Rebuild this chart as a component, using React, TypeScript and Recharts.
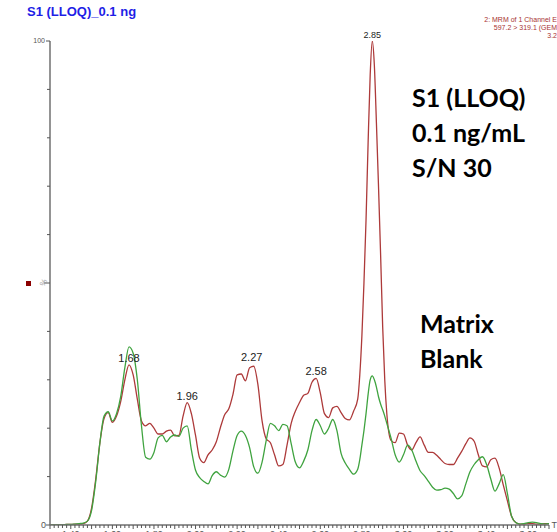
import React from "react";
import {
  LineChart,
  Line,
  XAxis,
  YAxis,
  ReferenceDot,
} from "recharts";

// retention time (min)
const times = [
  1.3, 1.32, 1.34, 1.36, 1.38, 1.4, 1.42, 1.44, 1.46, 1.48,
  1.5, 1.52, 1.54, 1.56, 1.58, 1.6, 1.62, 1.64, 1.66, 1.68,
  1.7, 1.72, 1.74, 1.76, 1.78, 1.8, 1.82, 1.84, 1.86, 1.88,
  1.9, 1.92, 1.94, 1.96, 1.98, 2.0, 2.02, 2.04, 2.06, 2.08,
  2.1, 2.12, 2.14, 2.16, 2.18, 2.2, 2.22, 2.24, 2.26, 2.28,
  2.3, 2.32, 2.34, 2.36, 2.38, 2.4, 2.42, 2.44, 2.46, 2.48,
  2.5, 2.52, 2.54, 2.56, 2.58, 2.6, 2.62, 2.64, 2.66, 2.68,
  2.7, 2.72, 2.74, 2.76, 2.78, 2.79, 2.8, 2.81, 2.82, 2.83,
  2.84, 2.85, 2.86, 2.87, 2.88, 2.89, 2.9, 2.91, 2.92, 2.94,
  2.96, 2.98, 3.0, 3.02, 3.04, 3.06, 3.08, 3.1, 3.12, 3.14,
  3.16, 3.18, 3.2, 3.22, 3.24, 3.26, 3.28, 3.3, 3.32, 3.34,
  3.36, 3.38, 3.4, 3.42, 3.44, 3.46, 3.48, 3.5, 3.52, 3.54,
  3.56, 3.58, 3.6, 3.62, 3.64, 3.66, 3.68, 3.7,
];

// S1 (LLOQ) 0.1 ng/mL, % intensity
const s1 = [
  0, 0, 0, 0, 0.1, 0.1, 0.2, 0.2, 0.3, 0.8,
  3.5, 9.5, 17, 22, 23.2, 21.2, 22.5, 25.5, 30, 33.1,
  31, 26, 21.5, 20.5, 21, 20, 18.8, 18.8, 19.4, 19.6,
  18.4, 18.5, 22.5, 25.3, 23, 18.5, 13.8, 12.9, 14.5, 15.5,
  17.2, 20.2, 22.8, 24, 27, 31, 31.2, 29.8, 32.5, 32.8,
  29, 21.5, 17.8, 17, 14.5, 12.2, 12.5, 16.5, 21, 23.5,
  25.3, 26.8, 27.2, 29.5, 30.3, 27.3, 23, 22.2, 24.2, 24.5,
  23.2, 22, 21.7, 23.5, 26, 31, 39, 50, 63, 79,
  93, 100, 95, 83, 70, 56, 41, 30, 23, 17.5,
  17, 19, 18.8, 16.5, 15.5, 17, 18.2, 16.5, 15, 15,
  14.4, 13.5, 12.7, 12.5, 12.5, 13.8, 15.2, 16.8, 18, 17.3,
  14.5, 12.2, 12, 13.5, 13.8, 11.8, 8.3, 5, 1.8, 0.5,
  0.2, 0.2, 0.3, 0.3, 0.2, 0.2, 0.3, 0.3,
];

// Matrix blank, % intensity
const blank = [
  0, 0, 0, 0, 0.1, 0.1, 0.2, 0.3, 0.4, 0.8,
  3, 9, 17, 22.5, 23.4, 21.5, 23, 26.5, 32.5, 36.8,
  35.5, 30, 20.5, 14, 13.6, 15, 18, 18.5, 17.2, 18.2,
  18.6, 18.3, 20, 20.5, 15.5, 11.3, 9.8, 9, 8.5, 10.2,
  11, 10.3, 9.9, 11.5, 15.3, 18.5, 19.4, 18.5, 16, 12,
  10.7, 13, 17.5, 21, 20.5, 19.5, 20.8, 20.5, 16.8, 13,
  11.8, 13.2, 15.5, 19.5, 21.8, 20.5, 18.8, 20, 21.8, 19.5,
  14.8, 12.8, 11.5, 10.5, 11.5, 13.5, 16.5, 19.5, 23, 27,
  30, 30.8, 30, 28.5, 26.5, 25, 23.8, 22.5, 21, 18,
  14.5, 13, 14.5, 16.5, 15.5, 13.2, 11.2, 10.2, 9, 7.8,
  7.2, 7.3, 7.6, 7.4, 6.5, 5.4, 6, 8.5, 11, 12.5,
  13.5, 14.1, 12.5, 9.5, 7, 8.5, 10.4, 6.5, 1.8, 0.5,
  0.2, 0.3, 0.5, 0.6, 0.5, 0.3, 0.2, 0.3,
];

const peakTimes = [1.68, 1.96, 2.27, 2.58, 2.85];
const peakHeights = [33.1, 25.3, 33.2, 30.4, 100];

const xTickLabels = ["1.40", "1.60", "1.80", "2.00", "2.20", "2.40", "2.60", "2.80", "3.00", "3.20", "3.40", "3.60"];
const yTicks = [0, 10, 20, 30, 40, 50, 60, 70, 80, 90, 100];

const data = times.map((t, i) => ({ t, s1: s1[i], blank: blank[i] }));

// minor ticks on the time axis every 0.02 min
const xMinor = Array.from({ length: 121 }, (_, i) => Math.round((1.3 + i * 0.02) * 100) / 100);

const RED = "#ad3a3a";
const GREEN = "#3fa33f";
const AXIS = "#707070";

const XTick = (props: any) => {
  const { x, y, payload } = props;
  const v = payload.value.toFixed(2);
  const labelled = xTickLabels.includes(v);
  const tenth = Math.round(payload.value * 100) % 10 === 0;
  return (
    <g>
      <line x1={x} x2={x} y1={y} y2={y + (tenth ? 4 : 3)} stroke="#555" strokeWidth={1} />
      {labelled && (
        <text x={x} y={y + 12} textAnchor="middle" fontSize={9} fill="#555" fontFamily="Liberation Sans, Arial, sans-serif">
          {v}
        </text>
      )}
    </g>
  );
};

const YTick = (props: any) => {
  const { x, y, payload } = props;
  const v = payload.value;
  const len = v === 50 ? 6 : v === 0 || v === 100 ? 4 : 3;
  return (
    <g fontFamily="Liberation Sans, Arial, sans-serif">
      <line x1={x - len} x2={x} y1={y} y2={y} stroke="#555" strokeWidth={1} />
      {v === 100 && (
        <text x={x - 5} y={y + 2} textAnchor="end" fontSize={7} fill="#555">100</text>
      )}
      {v === 0 && (
        <text x={x - 4} y={y + 3} textAnchor="end" fontSize={9} fill="#555">0</text>
      )}
      {v === 50 && (
        <text x={x - 6} y={y + 2} textAnchor="middle" fontSize={8} fill="#999" transform={`rotate(-60 ${x - 6} ${y})`}>%</text>
      )}
    </g>
  );
};

const bigText: React.CSSProperties = {
  position: "absolute",
  fontFamily: "Lato, 'Open Sans', sans-serif",
  fontWeight: 700,
  fontSize: 25,
  lineHeight: "35px",
  color: "#000",
  whiteSpace: "nowrap",
};

export default function App() {
  return (
    <div style={{ position: "fixed", left: 0, top: 0, width: 557, height: 532, overflow: "hidden", background: "#fff" }}>
      <div style={{ position: "absolute", left: 27, top: 4, fontFamily: "Liberation Sans, Arial, sans-serif", fontWeight: 700, fontSize: 13, color: "#1e1ee6", whiteSpace: "nowrap" }}>
        S1 (LLOQ)_0.1 ng
      </div>
      <div style={{ position: "absolute", right: 0, top: 16, fontFamily: "Liberation Sans, Arial, sans-serif", fontSize: 7, lineHeight: "8px", color: "#a83232", whiteSpace: "nowrap", textAlign: "right" }}>
        <div>2: MRM of 1 Channel E</div>
        <div>597.2 &gt; 319.1 (GEM</div>
        <div>3.2</div>
      </div>
      <div style={{ position: "absolute", left: 26, top: 281, width: 5, height: 5, background: "#8b0000" }} />

      <LineChart
        width={557}
        height={545}
        data={data}
        margin={{ top: 41, right: 8, bottom: 8, left: 0 }}
      >
        <XAxis
          dataKey="t"
          type="number"
          domain={[1.3, 3.7]}
          ticks={xMinor}
          interval={0}
          tick={<XTick />}
          tickLine={false}
          tickSize={0}
          tickMargin={0}
          height={12}
          axisLine={{ stroke: AXIS, strokeWidth: 1.5 }}
          allowDataOverflow
        />
        <YAxis
          type="number"
          domain={[0, 100]}
          ticks={yTicks}
          interval={0}
          tick={<YTick />}
          tickLine={false}
          tickSize={0}
          tickMargin={0}
          width={50}
          axisLine={{ stroke: AXIS, strokeWidth: 1.5 }}
          allowDataOverflow
        />
        <Line
          type="monotone"
          dataKey="s1"
          stroke={RED}
          strokeWidth={1.3}
          dot={false}
          isAnimationActive={false}
        />
        <Line
          type="monotone"
          dataKey="blank"
          stroke={GREEN}
          strokeWidth={1.3}
          dot={false}
          isAnimationActive={false}
        />
        {peakTimes.map((t, i) => (
          <ReferenceDot
            key={t}
            x={t}
            y={peakHeights[i]}
            r={0}
            fill="none"
            stroke="none"
            ifOverflow="visible"
            label={{
              value: t.toFixed(2),
              position: "top",
              offset: 3,
              fontSize: t === 2.85 ? 9 : 11,
              fill: "#222",
              fontFamily: "Liberation Sans, Arial, sans-serif",
            }}
          />
        ))}
      </LineChart>

      <div style={{ position: "absolute", right: 0, top: 520, fontFamily: "Liberation Sans, Arial, sans-serif", fontSize: 9, color: "#555" }}>T</div>

      <div style={{ ...bigText, left: 412, top: 80 }}>
        <div>S1 (LLOQ)</div>
        <div>0.1 ng/mL</div>
        <div>S/N 30</div>
      </div>
      <div style={{ ...bigText, left: 420, top: 306 }}>
        <div>Matrix</div>
        <div>Blank</div>
      </div>
    </div>
  );
}
